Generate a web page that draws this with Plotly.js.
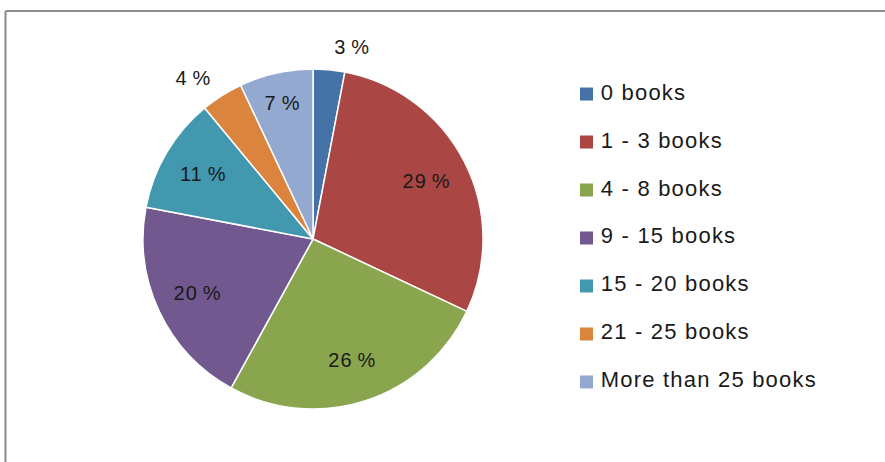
<!DOCTYPE html>
<html>
<head>
<meta charset="utf-8">
<script src="https://cdn.plot.ly/plotly-3.0.1.min.js"></script>
<style>
html,body{margin:0;padding:0;background:#fff;}
#chart{width:885px;height:462px;}
#chart .pielayer text{letter-spacing:1px;}
#chart .scatterlayer text{letter-spacing:1.2px;}
</style>
</head>
<body>
<div id="chart"></div>
<script>
var categories = ["0 books", "1 - 3 books", "4 - 8 books", "9 - 15 books", "15 - 20 books", "21 - 25 books", "More than 25 books"];
var percents = [3, 29, 26, 20, 11, 4, 7];
var colors = ["#4572A7", "#AA4643", "#89A54E", "#71588F", "#4198AF", "#DB843D", "#93A9CF"];
var labelOutside = [true, false, false, false, false, true, false];

var FONT = "Liberation Sans, Arial, sans-serif";
var TXT = "#1a1a1a";
var LABEL_FMT = "%{value}\u2009%";
var PIE_DOMAIN = {x: [0.1616, 0.5458], y: [0.1147, 0.8506]};
var OUT_DOMAIN = {x: [0.1480, 0.5594], y: [0.0887, 0.8766]};
var transparent = categories.map(function(){ return "rgba(0,0,0,0)"; });

function basePie() {
  return {
    type: "pie",
    labels: categories,
    values: percents,
    sort: false,
    direction: "clockwise",
    rotation: 0,
    showlegend: false,
    hoverinfo: "skip",
    textfont: {family: FONT, size: 20, color: TXT},
    insidetextfont: {family: FONT, size: 20, color: TXT},
    outsidetextfont: {family: FONT, size: 20, color: TXT}
  };
}

var fill = basePie();
fill.marker = {colors: colors, line: {color: "#ffffff", width: 1.5}};
fill.textinfo = "none";
fill.domain = PIE_DOMAIN;
fill.hoverinfo = "label+percent";

var inner = basePie();
inner.marker = {colors: transparent, line: {width: 0}};
inner.hole = 0.5;
inner.domain = PIE_DOMAIN;
inner.texttemplate = labelOutside.map(function(o){ return o ? "" : LABEL_FMT; });
inner.textposition = labelOutside.map(function(o){ return o ? "none" : "inside"; });
inner.insidetextorientation = "horizontal";

var outer = basePie();
outer.marker = {colors: transparent, line: {width: 0}};
outer.domain = OUT_DOMAIN;
outer.texttemplate = labelOutside.map(function(o){ return o ? LABEL_FMT : ""; });
outer.textposition = labelOutside.map(function(o){ return o ? "outside" : "none"; });

var legendIdx = categories.map(function(_, i){ return i; });
var legendMarks = {
  type: "scatter",
  mode: "markers",
  x: categories.map(function(){ return 0; }),
  y: legendIdx,
  marker: {symbol: "square", size: 13, color: colors, line: {width: 0}},
  cliponaxis: false,
  showlegend: false,
  hoverinfo: "skip"
};
var legendText = {
  type: "scatter",
  mode: "text",
  x: categories.map(function(){ return 0.048; }),
  y: legendIdx,
  text: categories,
  textposition: "middle right",
  textfont: {family: FONT, size: 22, color: TXT},
  cliponaxis: false,
  showlegend: false,
  hoverinfo: "text"
};

var layout = {
  width: 885,
  height: 462,
  margin: {l: 0, r: 0, t: 0, b: 0},
  paper_bgcolor: "#ffffff",
  plot_bgcolor: "rgba(0,0,0,0)",
  showlegend: false,
  xaxis: {domain: [0.6627, 1.0], range: [0, 1], visible: false, fixedrange: true},
  yaxis: {domain: [0.1732, 0.7965], range: [6, 0], visible: false, fixedrange: true},
  shapes: [
    {type: "line", xref: "paper", yref: "paper", x0: 0.0062, x1: 1.0, y0: 1 - 11/462, y1: 1 - 11/462, line: {color: "#8c8c8c", width: 2}},
    {type: "line", xref: "paper", yref: "paper", x0: 0.0062, x1: 0.0062, y0: 0, y1: 1 - 11/462, line: {color: "#8c8c8c", width: 2}}
  ]
};

Plotly.newPlot("chart", [fill, inner, outer, legendMarks, legendText], layout, {displayModeBar: false, staticPlot: true});
</script>
</body>
</html>
